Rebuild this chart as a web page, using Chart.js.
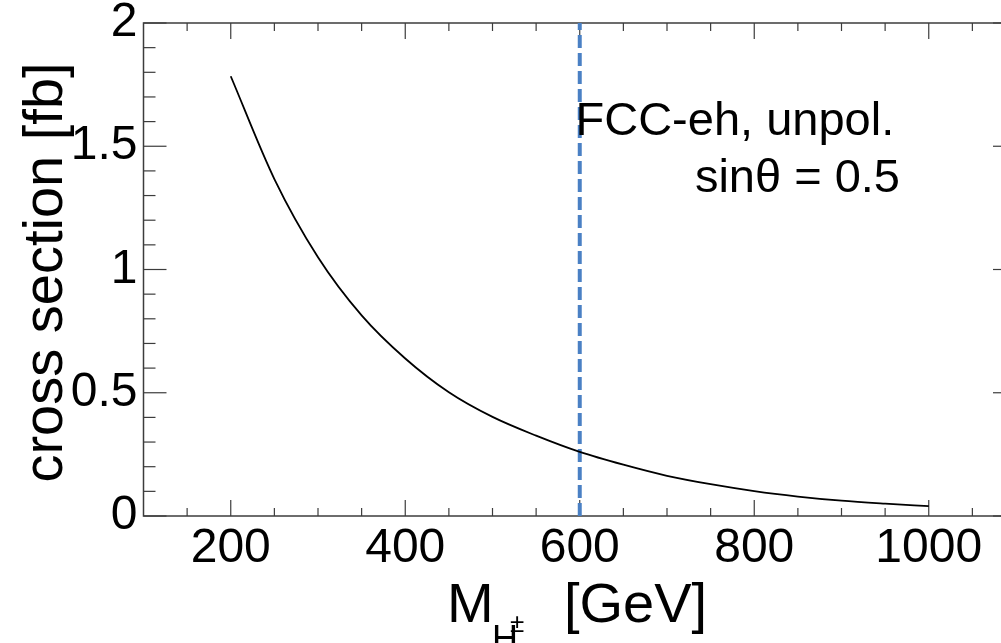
<!DOCTYPE html>
<html>
<head>
<meta charset="utf-8">
<script src="https://cdn.jsdelivr.net/npm/chart.js@4"></script>
<style>
  html, body { margin: 0; padding: 0; background: #fff; }
  #wrap { width: 1001px; height: 643px; overflow: hidden; position: relative; }
  canvas { display: block; }
</style>
</head>
<body>
<div id="wrap"><canvas id="c" width="1040" height="643"></canvas></div>
<script>
// ---- data ----
const massX = [200, 250, 300, 350, 400, 450, 500, 550, 600, 650, 700, 750, 800, 850, 900, 950, 1000];
const xsec  = [1.784, 1.367, 1.050, 0.814, 0.639, 0.502, 0.402, 0.326, 0.260, 0.208, 0.163, 0.129, 0.101, 0.079, 0.062, 0.050, 0.040];
const cutMass = 600;
const cutRange = [0, 2];
const xTickValues = [200, 400, 600, 800, 1000];
const xMinorValues = [150, 250, 300, 350, 450, 500, 550, 650, 700, 750, 850, 900, 950, 1050];
const yTickValues = [0, 0.5, 1, 1.5, 2];
const yMinorValues = [0.1, 0.2, 0.3, 0.4, 0.6, 0.7, 0.8, 0.9, 1.1, 1.2, 1.3, 1.4, 1.6, 1.7, 1.8, 1.9];
const labelLine1 = 'FCC-eh, unpol.';
const labelLine2 = 'sinθ = 0.5';
const yTitle = 'cross section [fb]';

const FONT = '"Liberation Sans", Arial, Helvetica, sans-serif';

const framePlugin = {
  id: 'frame',
  beforeDatasetsDraw(chart) {
    const { ctx, chartArea: a, scales: { x, y } } = chart;
    ctx.save();
    ctx.strokeStyle = '#3c3c3c';
    ctx.lineWidth = 1.5;
    ctx.strokeRect(a.left, a.top, a.right - a.left, a.bottom - a.top);
    const seg = (x1, y1, x2, y2) => { ctx.beginPath(); ctx.moveTo(x1, y1); ctx.lineTo(x2, y2); ctx.stroke(); };
    ctx.lineWidth = 1.2;
    xTickValues.forEach(v => { const p = x.getPixelForValue(v); seg(p, a.bottom, p, a.bottom - 16); seg(p, a.top, p, a.top + 16); });
    xMinorValues.forEach(v => { const p = x.getPixelForValue(v); seg(p, a.bottom, p, a.bottom - 8); seg(p, a.top, p, a.top + 8); });
    yTickValues.forEach(v => { const p = y.getPixelForValue(v); seg(a.left, p, a.left + 23, p); seg(a.right, p, a.right - 23, p); });
    yMinorValues.forEach(v => { const p = y.getPixelForValue(v); seg(a.left, p, a.left + 12, p); seg(a.right, p, a.right - 12, p); });
    ctx.restore();
  },
  afterDraw(chart) {
    const { ctx, chartArea: a } = chart;
    ctx.save();
    ctx.fillStyle = '#000';
    ctx.font = '47px ' + FONT;
    ctx.textBaseline = 'alphabetic';
    ctx.textAlign = 'left';
    ctx.fillText(labelLine1, 575.5, 135);
    ctx.textAlign = 'right';
    ctx.fillText(labelLine2, 900, 192);
    ctx.save();
    ctx.translate(62, (a.top + a.bottom) / 2 + 3);
    ctx.rotate(-Math.PI / 2);
    ctx.textAlign = 'center';
    ctx.font = '56px ' + FONT;
    ctx.fillText(yTitle, 0, 0);
    ctx.restore();
    ctx.textAlign = 'left';
    ctx.font = '56px ' + FONT;
    ctx.fillText('M', 447, 622);
    ctx.font = '36px ' + FONT;
    ctx.fillText('H', 492, 651);
    ctx.font = '26px ' + FONT;
    ctx.fillText('±', 510, 632);
    ctx.font = '56px ' + FONT;
    ctx.fillText('[GeV]', 564, 622);
    ctx.restore();
  }
};

new Chart(document.getElementById('c'), {
  type: 'line',
  data: {
    datasets: [
      {
        data: massX.map((m, i) => ({ x: m, y: xsec[i] })),
        borderColor: '#000',
        borderWidth: 1.8,
        pointRadius: 0,
        cubicInterpolationMode: 'monotone',
        fill: false
      },
      {
        data: cutRange.map(v => ({ x: cutMass, y: v })),
        borderColor: '#4a80c4',
        borderWidth: 4,
        borderDash: [13, 5],
        pointRadius: 0,
        fill: false
      }
    ]
  },
  plugins: [framePlugin],
  options: {
    responsive: false,
    animation: false,
    devicePixelRatio: 1,
    layout: { padding: { left: 0, top: 23, right: 24, bottom: 0 } },
    plugins: { legend: { display: false }, tooltip: { enabled: false } },
    scales: {
      x: {
        type: 'linear', min: 100, max: 1100,
        afterBuildTicks: s => { s.ticks = xTickValues.map(v => ({ value: v })); },
        afterFit: s => { s.height = 127; s.paddingLeft = 0; s.paddingRight = 0; },
        grid: { display: false, drawTicks: false },
        border: { display: false },
        ticks: { color: '#000', font: { family: FONT, size: 48 }, padding: 4, maxRotation: 0, autoSkip: false, callback: v => String(v) }
      },
      y: {
        type: 'linear', min: 0, max: 2,
        afterBuildTicks: s => { s.ticks = yTickValues.map(v => ({ value: v })); },
        afterFit: s => { s.width = 143.5; s.paddingTop = 0; s.paddingBottom = 0; },
        grid: { display: false, drawTicks: false },
        border: { display: false },
        ticks: { color: '#000', font: { family: FONT, size: 48 }, padding: 6, autoSkip: false, callback: v => String(v) }
      }
    }
  }
});
</script>
</body>
</html>
